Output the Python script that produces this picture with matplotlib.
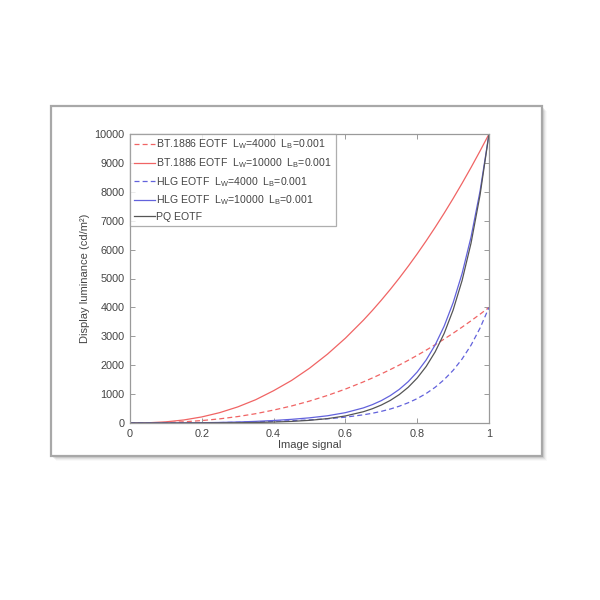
import matplotlib
matplotlib.use("Agg")
import matplotlib.pyplot as plt
from matplotlib.patches import Rectangle

plt.rcParams['font.family'] = ['Liberation Sans', 'DejaVu Sans']
plt.rcParams['mathtext.fontset'] = 'custom'
plt.rcParams['mathtext.rm'] = 'Liberation Sans'
plt.rcParams['mathtext.it'] = 'Liberation Sans'

signal = [0, 0.05, 0.1, 0.15, 0.2, 0.25, 0.3, 0.35, 0.4, 0.45, 0.5, 0.55, 0.6,
          0.65, 0.675, 0.7, 0.725, 0.75, 0.775, 0.8, 0.825, 0.85, 0.875, 0.9,
          0.925, 0.95, 0.975, 1.0]

bt1886_4000 = [0, 3.0, 15.9, 42.1, 84.0, 143.6, 222.4, 322, 447, 589, 758, 953, 1174,
               1422, 1557, 1699, 1849, 2005, 2170, 2341, 2521, 2708, 2903, 3106,
               3317, 3537, 3764, 4000]
bt1886_10000 = [0, 7.5, 39.8, 105.4, 210.1, 359.0, 556.1, 805, 1118, 1472, 1895, 2382, 2935,
                3556, 3893, 4249, 4622, 5013, 5424, 5853, 6302, 6770, 7258, 7766,
                8294, 8842, 9411, 10000]
hlg_4000 = [0, 0.13, 1.0, 3.3, 7.6, 14.4, 24.5, 38.4, 56.6, 79.7, 108, 146, 202,
            283, 337, 403, 483, 581, 700, 844, 1021, 1236, 1500, 1821,
            2214, 2694, 3282, 4000]
hlg_10000 = [0, 0.1, 1.0, 3.6, 9.2, 18.9, 34.1, 56.2, 86.7, 127, 179, 250, 358,
             522, 635, 774, 948, 1163, 1431, 1765, 2181, 2701, 3349, 4159,
             5171, 6437, 8019, 10000]
pq = [0, 0.06, 0.32, 1.0, 2.4, 5.2, 10.0, 18.4, 32.5, 55.4, 92.2, 151, 244,
      390, 493, 621, 781, 983, 1236, 1555, 1956, 2461, 3097, 3907,
      4929, 6225, 7884, 10000]

labels = [
    r'BT.1886 EOTF  L$_W$=4000  L$_B$=0.001',
    r'BT.1886 EOTF  L$_W$=10000  L$_B$=0.001',
    r'HLG EOTF  L$_W$=4000  L$_B$=0.001',
    r'HLG EOTF  L$_W$=10000  L$_B$=0.001',
    'PQ EOTF',
]
xticks = [0, 0.2, 0.4, 0.6, 0.8, 1]
xticklabels = ['0', '0.2', '0.4', '0.6', '0.8', '1']
yticks = list(range(0, 10001, 1000))

fig = plt.figure(figsize=(6, 6), dpi=100)
fig.patch.set_facecolor('white')

# frame with drop shadow
fx0, fy0, fw, fh = 51/600, (600-456)/600, 491/600, 350/600
for i, a in enumerate([0.10, 0.08, 0.06, 0.04, 0.025]):
    d = (i + 1) / 600
    fig.patches.append(Rectangle((fx0 + d, fy0 - d), fw, fh, transform=fig.transFigure,
                                 facecolor='#000000', alpha=a, edgecolor='none', zorder=0))
fig.patches.append(Rectangle((fx0, fy0), fw, fh, transform=fig.transFigure,
                             facecolor='white', edgecolor='#a8a8a8', linewidth=1.6, zorder=1))

ax = fig.add_axes([130/600, (600-423)/600, 359/600, 289/600])
ax.set_zorder(2)

red = '#f06464'
blue = '#6262dc'
gray = '#555555'
lw = 0.9
ax.plot(signal, bt1886_4000, color=red, ls=(0, (4, 2.5)), lw=lw, label=labels[0])
ax.plot(signal, bt1886_10000, color=red, ls='-', lw=lw, label=labels[1])
ax.plot(signal, hlg_4000, color=blue, ls=(0, (4, 2.5)), lw=lw, label=labels[2])
ax.plot(signal, hlg_10000, color=blue, ls='-', lw=lw, label=labels[3])
ax.plot(signal, pq, color=gray, ls='-', lw=lw, label=labels[4])

ax.set_xlim(0, 1)
ax.set_ylim(0, 10000)
ax.set_xticks(xticks)
ax.set_xticklabels(xticklabels)
ax.set_yticks(yticks)
ax.set_yticklabels([str(v) for v in yticks])
ax.tick_params(direction='in', length=3.5, width=0.7, colors='#9a9a9a',
               labelcolor='#444444', labelsize=7.8, top=True, right=True, pad=4)
for s in ax.spines.values():
    s.set_color('#9a9a9a')
    s.set_linewidth(0.9)

ax.set_xlabel('Image signal', fontsize=8, color='#444444', labelpad=1)
ax.set_ylabel('Display luminance (cd/m²)', fontsize=8, color='#444444', labelpad=3)

leg = ax.legend(loc='upper left', fontsize=7.6, frameon=True, fancybox=False,
                edgecolor='#9a9a9a', borderaxespad=0.0, handlelength=2.0,
                handletextpad=0.15, labelspacing=0.45, borderpad=0.35)
leg.get_frame().set_linewidth(0.9)
for t in leg.get_texts():
    t.set_color('#444444')

fig.savefig('out.png', dpi=100, facecolor='white')
